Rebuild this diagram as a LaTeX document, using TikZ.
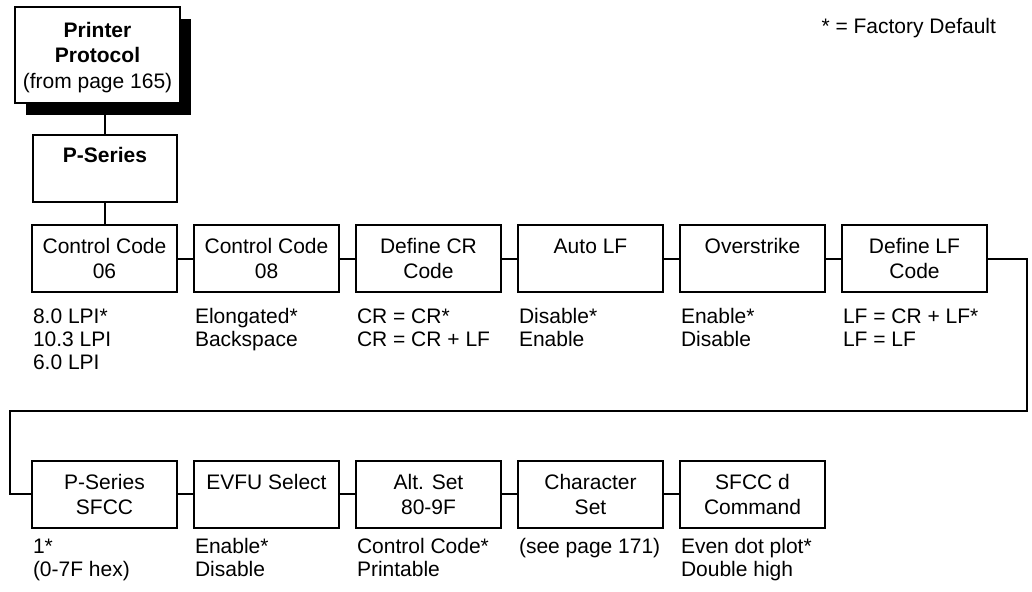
\documentclass[tikz,border=0pt]{standalone}
\usepackage{fontspec}
\setmainfont{Liberation Sans}
\usetikzlibrary{positioning, shadows}

\begin{document}
\begin{tikzpicture}[x=0.5pt, y=-0.5pt, line width=1pt,
    menu/.style={draw, fill=white, minimum width=72.5pt, minimum height=33.5pt,
      inner sep=0pt, outer sep=0pt, align=center, text depth=0pt, font=\fontsize{10.5}{12.5}\selectfont},
    opts/.style={anchor=north west, inner sep=0pt, align=left, font=\fontsize{10.5}{11.5}\selectfont},
    node distance=8.5pt]
    \useasboundingbox (0,0) rectangle (1032,591);

    % Legend
    \node (legend) [anchor=base east, inner sep=0pt, font=\fontsize{10.5}{12.5}\selectfont] at (997,33) {* = Factory Default};

    % Top menus
    \node (proto) [menu, minimum width=82.5pt, minimum height=48pt, font=\fontsize{10.5}{12.75}\selectfont,
      drop shadow={shadow xshift=5.5pt, shadow yshift=-6pt, fill=black, opacity=1}] at (97.5,55)
      {\textbf{Printer}\\\textbf{Protocol}\\(from page 165)};
    \node (pser) [menu, minimum width=72pt] at (105,168.5) {\textbf{P-Series}\\[1pt]\mbox{}};

    % First row
    \node (cc06) [menu] at (104.5,258.5) {Control Code\\06};
    \node (cc08) [menu, right=of cc06] {Control Code\\08};
    \node (dcr) [menu, right=of cc08] {Define CR\\Code};
    \node (alf) [menu, right=of dcr] {Auto LF\\\mbox{}};
    \node (ovs) [menu, right=of alf] {Overstrike\\\mbox{}};
    \node (dlf) [menu, right=of ovs] {Define LF\\Code};

    % Second row
    \node (psf) [menu] at (104.5,494) {P-Series\\SFCC};
    \node (evfu) [menu, right=of psf] {EVFU Select\\\mbox{}};
    \node (alt) [menu, right=of evfu] {Alt. Set\\80-9F};
    \node (chs) [menu, right=of alt] {Character\\Set};
    \node (sfd) [menu, right=of chs] {SFCC d\\Command};

    % Options
    \node (o06) [opts] at ([yshift=-7pt]cc06.south west) {\strut 8.0 LPI*\\10.3 LPI\\6.0 LPI};
    \node (o08) [opts] at ([yshift=-7pt]cc08.south west) {\strut Elongated*\\Backspace};
    \node (ocr) [opts] at ([yshift=-7pt]dcr.south west) {\strut CR = CR*\\CR = CR + LF};
    \node (oalf) [opts] at ([yshift=-7pt]alf.south west) {\strut Disable*\\Enable};
    \node (oovs) [opts] at ([yshift=-7pt]ovs.south west) {\strut Enable*\\Disable};
    \node (olf) [opts] at ([yshift=-7pt]dlf.south west) {\strut LF = CR + LF*\\LF = LF};
    \node (opsf) [opts] at ([yshift=-4.5pt]psf.south west) {\strut 1*\\(0-7F hex)};
    \node (oevfu) [opts] at ([yshift=-4.5pt]evfu.south west) {\strut Enable*\\Disable};
    \node (oalt) [opts] at ([yshift=-4.5pt]alt.south west) {\strut Control Code*\\Printable};
    \node (ochs) [opts] at ([yshift=-4.5pt]chs.south west) {\strut (see page 171)};
    \node (osfd) [opts] at ([yshift=-4.5pt]sfd.south west) {\strut Even dot plot*\\Double high};

    % Connectors
    \draw (proto.south -| pser.north) -- (pser.north);
    \draw (pser.south) -- (pser.south |- cc06.north);
    \foreach \a/\b in {cc06/cc08, cc08/dcr, dcr/alf, alf/ovs, ovs/dlf,
                       psf/evfu, evfu/alt, alt/chs, chs/sfd}
      \draw (\a) -- (\b);

    % Wrap to second row
    \coordinate (wrapR) at (1027,411);
    \coordinate (wrapL) at (10,411);
    \draw (dlf.east) -| (wrapR) -- (wrapL) |- (psf.west);
  \end{tikzpicture}
\end{document}
